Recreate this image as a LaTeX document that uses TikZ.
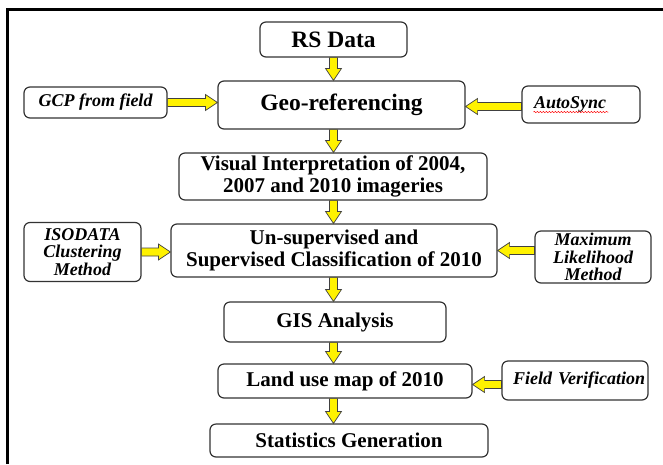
\documentclass[tikz,border=0pt]{standalone}
\usepackage{fontspec}
\setmainfont{Liberation Serif}
\usetikzlibrary{positioning,calc,decorations.pathmorphing}

\begin{document}
\begin{tikzpicture}[
	box/.style = {draw = black!80, line width = 1.2pt, rounded corners = 6pt, inner sep = 0pt, align = center},
	topbox/.style = {box, font = \bfseries\fontsize{23.5}{25}\selectfont},
	mainbox/.style = {box, font = \bfseries\fontsize{21}{22.5}\selectfont},
	sidebox/.style = {box, font = \bfseries\itshape\fontsize{18}{17.5}\selectfont},
	blockarrow/.style = {draw = black!75, fill = yellow, line width = 0.7pt, line join = miter,
		to path = {($(\tikztostart)!4pt!90:(\tikztotarget)$)
			-- ($(\tikztotarget)!12pt!(\tikztostart)!4pt!90:(\tikztotarget)$)
			-- ($(\tikztotarget)!12pt!(\tikztostart)!8pt!90:(\tikztotarget)$)
			-- (\tikztotarget)
			-- ($(\tikztotarget)!12pt!(\tikztostart)!8pt!-90:(\tikztotarget)$)
			-- ($(\tikztotarget)!12pt!(\tikztostart)!4pt!-90:(\tikztotarget)$)
			-- ($(\tikztostart)!4pt!-90:(\tikztotarget)$) -- cycle}}]
	\useasboundingbox (0,0) rectangle (663pt,-464pt);
	\draw[line width = 2.5pt] (7.5pt,-464pt) -- (7.5pt,-9.5pt) -- (663pt,-9.5pt);
	\node[topbox, minimum width = 147pt, minimum height = 35pt] (rs) at (333.5pt,-39.5pt) {RS Data};
	\node[topbox, minimum width = 247pt, minimum height = 48pt] (geo) [node distance = 65.5pt] [below of = rs, xshift = 8pt] {Geo-referencing};
	\node[mainbox, minimum width = 308pt, minimum height = 47pt] (vis) [node distance = 71.5pt] [below of = geo, xshift = -8.5pt] {Visual Interpretation of 2004,\\2007 and 2010 imageries};
	\node[mainbox, minimum width = 326pt, minimum height = 53pt] (uns) [node distance = 74pt] [below of = vis, xshift = 1pt] {Un-supervised and\\Supervised Classification of 2010};
	\node[mainbox, minimum width = 222pt, minimum height = 40pt] (gis) [node distance = 71.5pt] [below of = uns, xshift = 1pt] {GIS Analysis};
	\node[mainbox, minimum width = 254pt, minimum height = 34pt] (land) [node distance = 59pt] [below of = gis, xshift = 10pt] {Land use map of 2010};
	\node[mainbox, minimum width = 278pt, minimum height = 33pt] (stat) [node distance = 59.5pt] [below of = land, xshift = 4pt] {Statistics Generation};
	\node[sidebox, minimum width = 143pt, minimum height = 31pt] (gcp) [node distance = 246pt] [left of = geo, yshift = 2.5pt] {GCP from field};
	\node[sidebox, text width = 94pt, inner xsep = 12pt, align = left, minimum height = 37pt] (auto) [node distance = 239.5pt] [right of = geo, yshift = 0.5pt] {AutoSync};
	\node[sidebox, minimum width = 117pt, minimum height = 59pt] (iso) [node distance = 251.5pt] [left of = uns, yshift = -1.5pt] {ISODATA\\Clustering\\Method};
	\node[sidebox, minimum width = 116pt, minimum height = 52pt] (maxl) [node distance = 259pt] [right of = uns, yshift = -6.5pt] {Maximum\\Likelihood\\Method};
	\node[sidebox, text width = 124pt, inner xsep = 11pt, align = left, minimum height = 39pt] (fver) [node distance = 230pt] [right of = land, yshift = 0.5pt] {\mbox{Field Verification}};
	\draw[red, line width = 0.5pt, decorate, decoration = {snake, amplitude = 0.7pt, segment length = 3pt}] ([xshift = 12pt, yshift = -3.5pt]auto.base west) -- ++(75pt,0);
	\path (rs.south) edge[blockarrow] (rs.south |- geo.north);
	\path (geo.south -| rs) edge[blockarrow] (vis.north -| rs);
	\path (vis.south -| rs) edge[blockarrow] (uns.north -| rs);
	\path (uns.south -| rs) edge[blockarrow] (gis.north -| rs);
	\path (gis.south -| rs) edge[blockarrow] (land.north -| rs);
	\path (land.south -| rs) edge[blockarrow] (stat.north -| rs);
	\path (gcp.east) edge[blockarrow] (gcp.east -| geo.west);
	\path ([yshift = -2pt]auto.west) edge[blockarrow] ([yshift = -2pt]auto.west -| geo.east);
	\path (iso.east) edge[blockarrow] (iso.east -| uns.west);
	\path (uns.east -| maxl.west) edge[blockarrow] (uns.east);
	\path ([yshift = -4pt]fver.west) edge[blockarrow] ([yshift = -4pt]fver.west -| land.east);
\end{tikzpicture}
\end{document}
